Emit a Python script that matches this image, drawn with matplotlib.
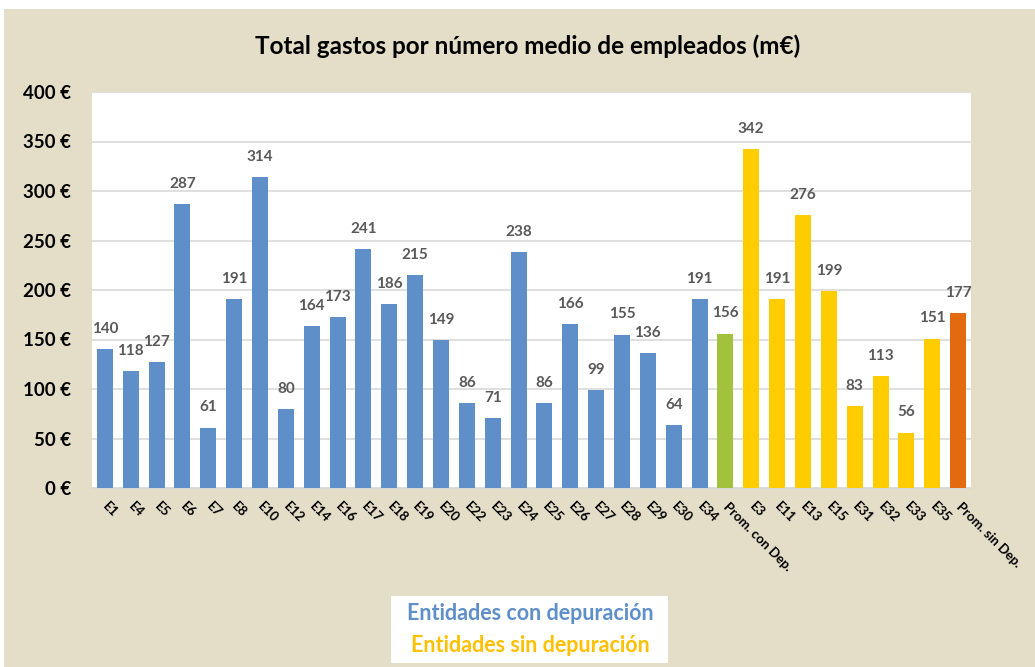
import matplotlib
matplotlib.use("Agg")
import matplotlib.pyplot as plt
from matplotlib.patches import Rectangle

# ---- data ----
categories = ["E1", "E4", "E5", "E6", "E7", "E8", "E10", "E12", "E14", "E16",
              "E17", "E18", "E19", "E20", "E22", "E23", "E24", "E25", "E26", "E27",
              "E28", "E29", "E30", "E34", "Prom. con Dep.",
              "E3", "E11", "E13", "E15", "E31", "E32", "E33", "E35", "Prom. sin Dep."]
values = [140, 118, 127, 287, 61, 191, 314, 80, 164, 173,
          241, 186, 215, 149, 86, 71, 238, 86, 166, 99,
          155, 136, 64, 191, 156,
          342, 191, 276, 199, 83, 113, 56, 151, 177]
groups = ["con"] * 24 + ["prom_con"] + ["sin"] * 8 + ["prom_sin"]
yticks = [0, 50, 100, 150, 200, 250, 300, 350, 400]
ytick_labels = [f"{v} €" for v in yticks]
title = "Total gastos por número medio de empleados (m€)"
legend_texts = ["Entidades con depuración", "Entidades sin depuración"]

# ---- styles ----
group_colors = {"con": "#5F8FC9", "prom_con": "#A2C13C",
                "sin": "#FFCC00", "prom_sin": "#E26B12"}
BEIGE = "#E4DEC8"
FONT = "Lato"

W, H = 1035, 667
fig = plt.figure(figsize=(W / 100, H / 100), dpi=100, facecolor=BEIGE)

# white strips on top / left like reference
fig.patches.append(Rectangle((0, 1 - 9 / H), 1, 9 / H, transform=fig.transFigure,
                             facecolor="white", edgecolor="none", zorder=-1))
fig.patches.append(Rectangle((0, 0), 4 / W, 1, transform=fig.transFigure,
                             facecolor="white", edgecolor="none", zorder=-1))

left, right, top, bottom = 92, 971, 92, 488
ax = fig.add_axes([left / W, 1 - bottom / H, (right - left) / W, (bottom - top) / H])
ax.set_facecolor("white")

x = list(range(len(categories)))
colors = [group_colors[g] for g in groups]
ax.bar(x, values, width=0.62, color=colors, zorder=3)

ax.set_xlim(-0.5, len(categories) - 0.5)
ax.set_ylim(0, 400)
ax.set_yticks(yticks)
ax.set_yticklabels(ytick_labels, fontfamily=FONT, fontweight="bold", fontsize=13.5, color="black")
ax.yaxis.grid(True, color="#D9D9D9", linewidth=1.2, zorder=0)
ax.set_axisbelow(True)
for s in ["top", "right", "left"]:
    ax.spines[s].set_visible(False)
ax.spines["bottom"].set_color("#D9D9D9")
ax.spines["bottom"].set_linewidth(1.2)
ax.tick_params(axis="both", length=0)
ax.tick_params(axis="y", pad=15)

ax.set_xticks(x)
ax.set_xticklabels(categories, rotation=-45, ha="left", va="center",
                   rotation_mode="anchor", fontfamily=FONT, fontweight="bold",
                   fontsize=9.5, color="black")
ax.tick_params(axis="x", pad=12)

for xi, v in zip(x, values):
    ax.annotate(f"{v}", (xi, v), xytext=(0, 14.5), textcoords="offset points",
                ha="center", va="center", fontfamily=FONT, fontweight="bold",
                fontsize=11, color="#595959")

fig.text(528 / W, 1 - 46 / H, title, ha="center", va="center",
         fontfamily=FONT, fontweight="bold", fontsize=17.5, color="black")

# text "legend" box
fig.patches.append(Rectangle((391 / W, 1 - 663 / H), (668 - 391) / W, (663 - 596) / H,
                             transform=fig.transFigure, facecolor="white",
                             edgecolor="none", zorder=1))
fig.text(530 / W, 1 - 614 / H, legend_texts[0], ha="center", va="center",
         fontfamily=FONT, fontweight="bold", fontsize=15.5, color="#5F8FC9", zorder=2)
fig.text(530 / W, 1 - 645 / H, legend_texts[1], ha="center", va="center",
         fontfamily=FONT, fontweight="bold", fontsize=15.5, color="#FFC000", zorder=2)

fig.savefig("out.png", dpi=100, facecolor=fig.get_facecolor())
